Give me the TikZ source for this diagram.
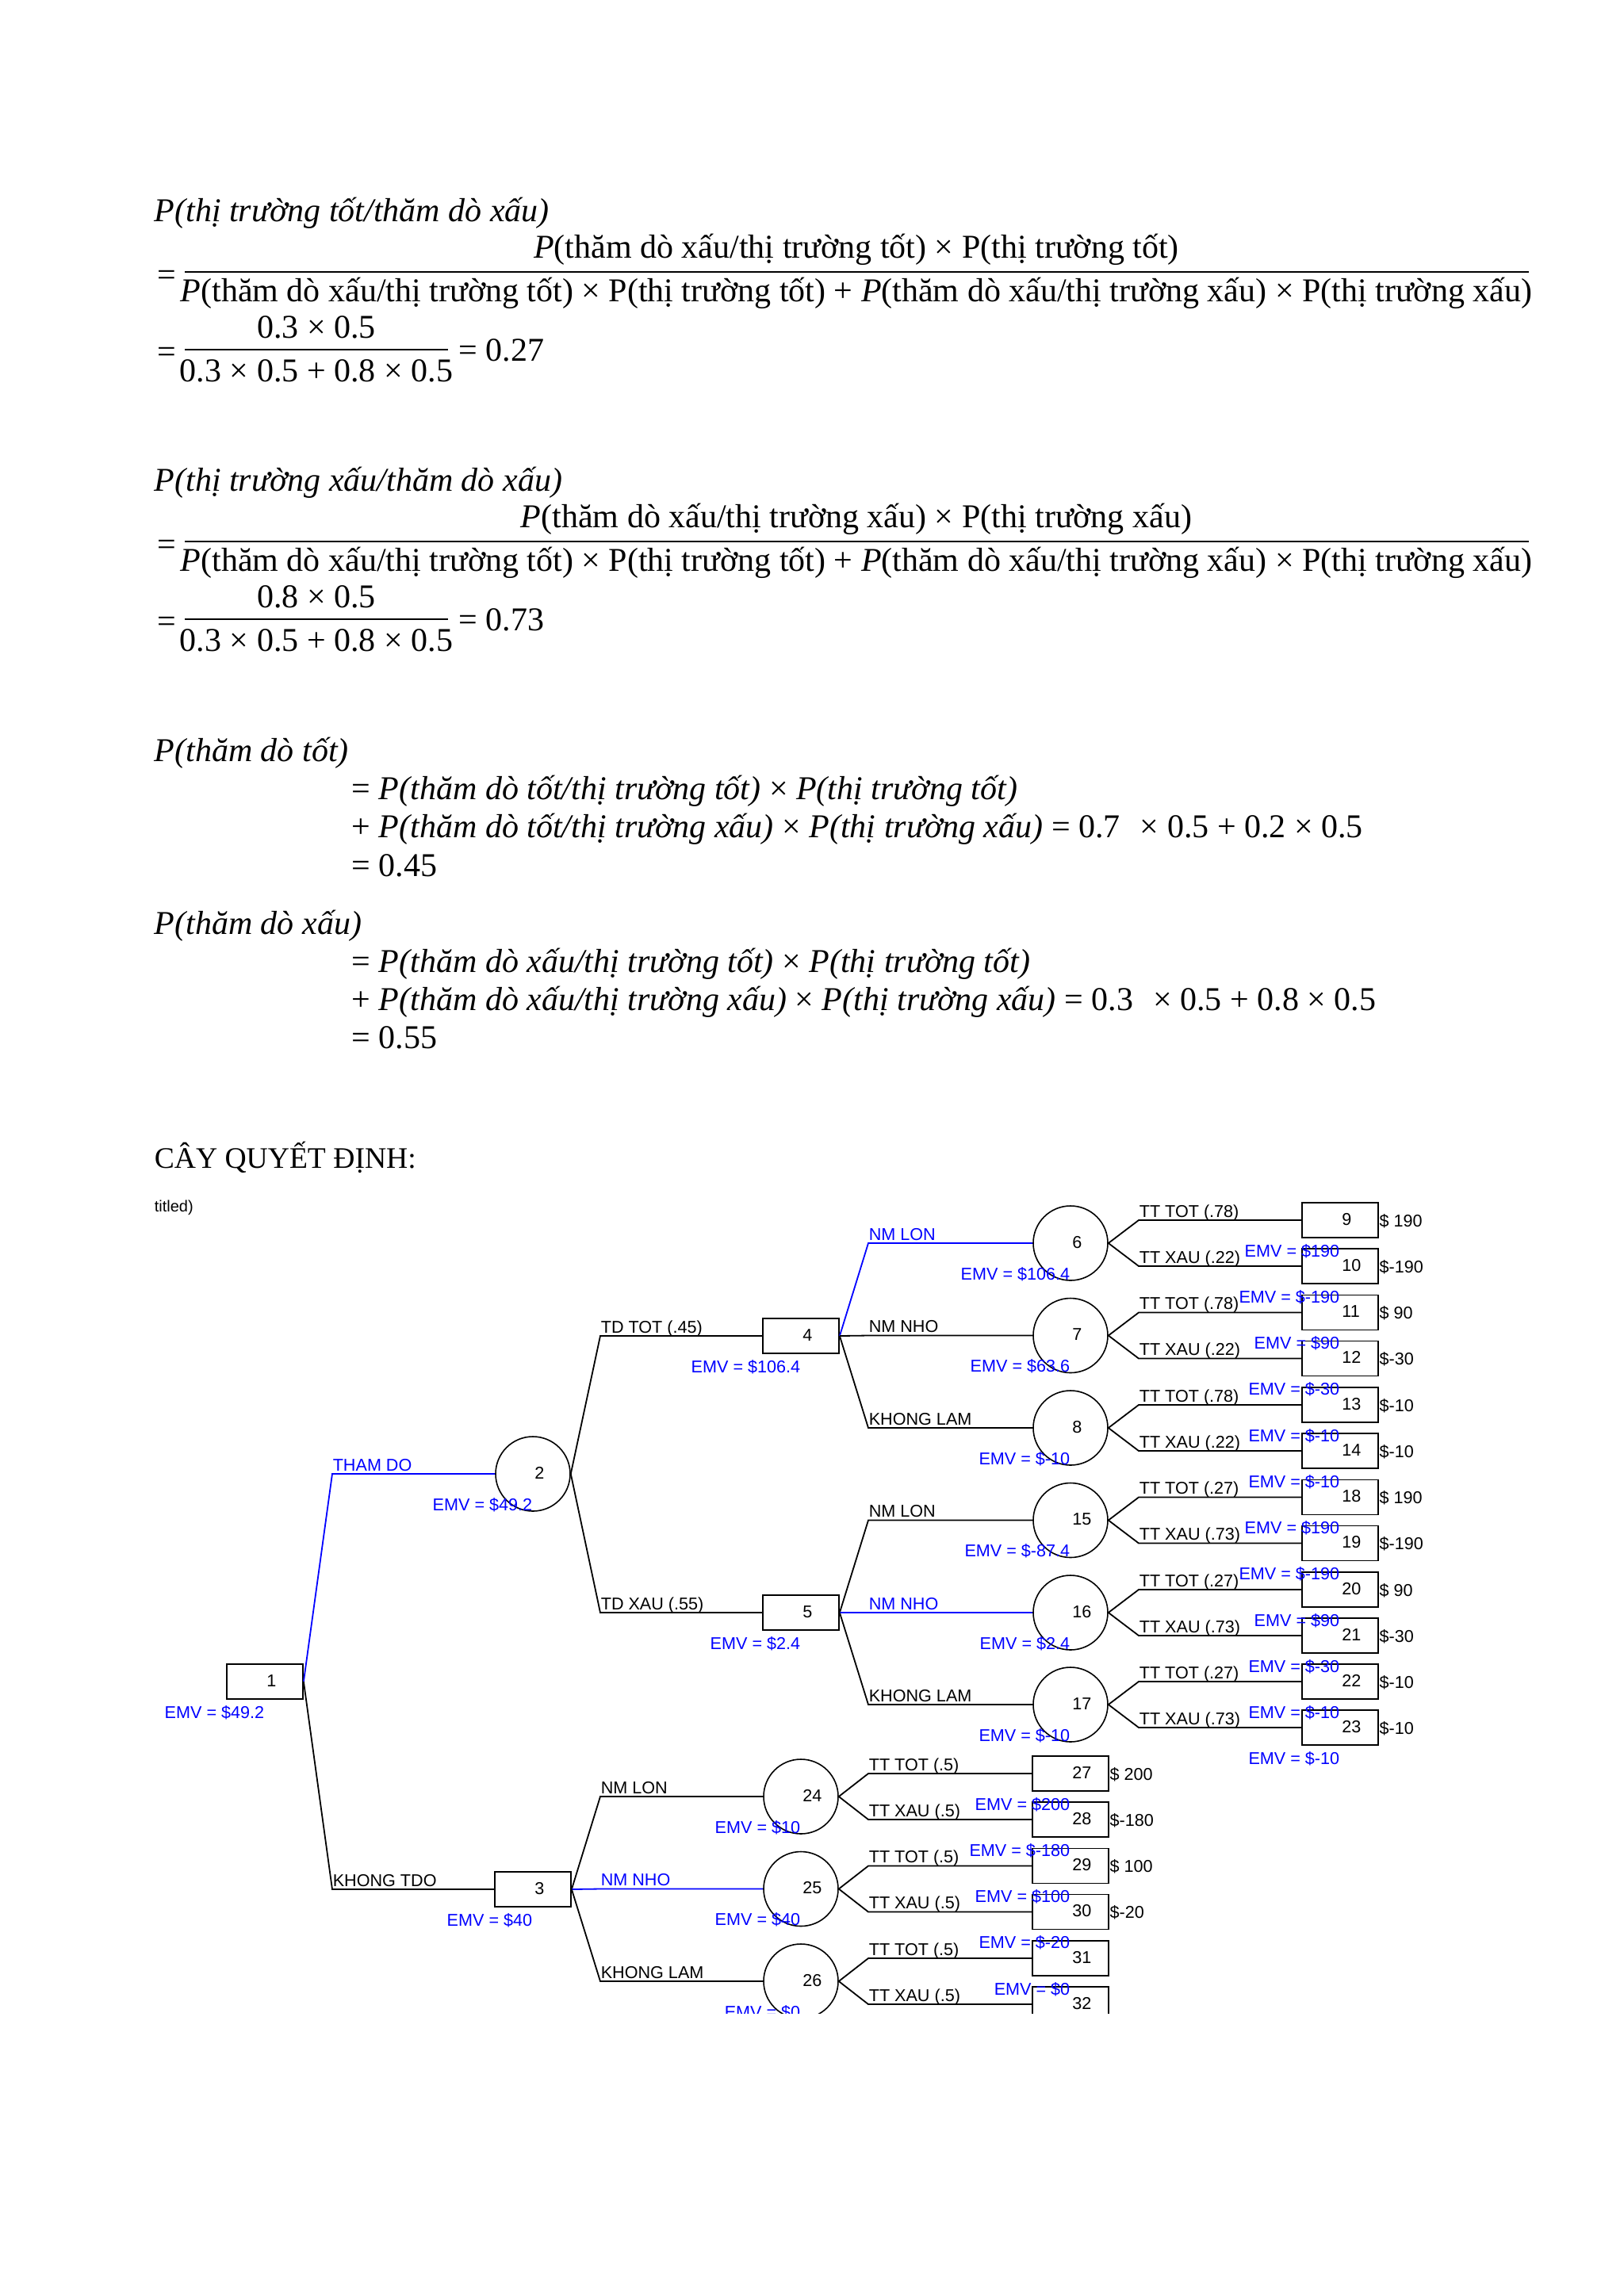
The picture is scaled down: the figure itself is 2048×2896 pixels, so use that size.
\documentclass[tikz,border=0pt]{standalone}
\usepackage{fontspec}
\setmainfont{Liberation Serif}
\newfontfamily\treefont{Liberation Sans}
\definecolor{tblue}{RGB}{0,0,255}
\newcommand{\EqF}{\fontsize{10.5pt}{12pt}\selectfont}
\newcommand{\TrF}{\treefont\fontsize{5.4pt}{6pt}\selectfont}
\newcommand{\mkBox}[4]{\node[dbox] (#1) at (#2,#3) {}; \node[nnum] (#1n) at ([xshift=0.4pt]#1.center) {#4};}
\newcommand{\mkCirc}[4]{\node[cnode] (#1) at (#2,#3) {}; \node[nnum] (#1n) at ([xshift=0.4pt]#1.center) {#4};}
\newcommand{\mkEmv}[2]{\node[emv] (#1e) at ([yshift=-11.5pt]#1.center) {EMV = \$#2};}
\newcommand{\mkPay}[2]{\node[pay] (#1p) at ([yshift=-2pt]#1.east) {\$#2};}
\newcommand{\mkBranch}[5]{%
  \draw[branch,#1] (#2.east) -- (#4,0 |- #3) coordinate (#3k) -- (#3.west);
  \node[blab,text=#1] (#3l) at ([yshift=1pt]#3k) {#5};}
\begin{document}
\begin{tikzpicture}[x=0.25pt,y=-0.25pt,
  eq/.style={font=\EqF, inner sep=0pt, anchor=base west},
  eqc/.style={font=\EqF, inner sep=0pt, anchor=base},
  bar/.style={line width=0.55pt},
  branch/.style={line width=0.45pt},
  dbox/.style={draw, line width=0.45pt, minimum width=24pt, minimum height=11pt, inner sep=0pt},
  cnode/.style={draw, circle, line width=0.4pt, minimum size=23.5pt, inner sep=0pt},
  nnum/.style={font=\TrF, inner sep=0pt, anchor=base west, yshift=-1.5pt},
  blab/.style={font=\TrF, inner sep=0pt, anchor=base west},
  emv/.style={font=\TrF, text=tblue, inner sep=0pt, anchor=base east},
  pay/.style={font=\TrF, inner sep=0pt, anchor=base west}]
\fill[white] (0,0) rectangle (2048,2896);
\useasboundingbox (0,0) rectangle (2048,2896);

% ---------- block 1
\node[eq] (b1t) at (194,279) {\textit{P(thị trường tốt/thăm dò xấu)}};
\node[eqc] (b1n) at (1080,325) {\textit{P}(thăm dò xấu/thị trường tốt) × P(thị trường tốt)};
\node[eq] (b1e) at (198,360) {=};
\draw[bar] (233,343) -- (1928,343);
\node[eqc] (b1d) at (1080,380) {\textit{P}(thăm dò xấu/thị trường tốt) × P(thị trường tốt) + \textit{P}(thăm dò xấu/thị trường xấu) × P(thị trường xấu)};
\node[eqc] (b1fn) at (399,426) {0.3 × 0.5};
\node[eq] (b1e2) at (198,457) {=};
\draw[bar] (233,441) -- (565,441);
\node[eqc] (b1fd) at (399,481) {0.3 × 0.5 + 0.8 × 0.5};
\node[eq] (b1r) at (578,455) {= 0.27};

% ---------- block 2
\node[eq] (b2t) at (194,619) {\textit{P(thị trường xấu/thăm dò xấu)}};
\node[eqc] (b2n) at (1080,665) {\textit{P}(thăm dò xấu/thị trường xấu) × P(thị trường xấu)};
\node[eq] (b2e) at (198,700) {=};
\draw[bar] (233,683) -- (1928,683);
\node[eqc] (b2d) at (1080,720) {\textit{P}(thăm dò xấu/thị trường tốt) × P(thị trường tốt) + \textit{P}(thăm dò xấu/thị trường xấu) × P(thị trường xấu)};
\node[eqc] (b2fn) at (399,766) {0.8 × 0.5};
\node[eq] (b2e2) at (198,797) {=};
\draw[bar] (233,781) -- (565,781);
\node[eqc] (b2fd) at (399,821) {0.3 × 0.5 + 0.8 × 0.5};
\node[eq] (b2r) at (578,795) {= 0.73};

% ---------- block 3
\node[eq] (b3t) at (194,960) {\textit{P(thăm dò tốt)}};
\node[eq] (b3a) at (443,1008) {= \textit{P(thăm dò tốt/thị trường tốt)} × \textit{P(thị trường tốt)}};
\node[eq] (b3b) at (443,1056) {+ \textit{P(thăm dò tốt/thị trường xấu)} × \textit{P(thị trường xấu)} = 0.7\hspace{0.6em}× 0.5 + 0.2 × 0.5};
\node[eq] (b3c) at (443,1105) {= 0.45};

% ---------- block 4
\node[eq] (b4t) at (194,1178) {\textit{P(thăm dò xấu)}};
\node[eq] (b4a) at (443,1226) {= \textit{P(thăm dò xấu/thị trường tốt)} × \textit{P(thị trường tốt)}};
\node[eq] (b4b) at (443,1274) {+ \textit{P(thăm dò xấu/thị trường xấu)} × \textit{P(thị trường xấu)} = 0.3\hspace{0.6em}× 0.5 + 0.8 × 0.5};
\node[eq] (b4c) at (443,1322) {= 0.55};

% ---------- title
\node[anchor=base west, inner sep=0pt, font=\fontsize{9.4pt}{10pt}\selectfont] (title) at (194,1473) {CÂY QUYẾT ĐỊNH:};
\node[anchor=base west, inner sep=0pt, font=\treefont\fontsize{5pt}{6pt}\selectfont] (untitled) at (194,1528) {titled)};

% ---------- tree
\begin{scope}
\clip (0,1490) rectangle (2048,2539);
\mkBox{n1}{334}{2121}{1}
\mkCirc{n2}{672}{1859}{2}
\mkBox{n3}{672}{2383}{3}
\mkBox{n4}{1010}{1685}{4}
\mkBox{n5}{1010}{2034}{5}
\mkCirc{n6}{1350}{1568}{6}
\mkCirc{n7}{1350}{1684.5}{7}
\mkCirc{n8}{1350}{1801}{8}
\mkCirc{n15}{1350}{1917.5}{15}
\mkCirc{n16}{1350}{2034}{16}
\mkCirc{n17}{1350}{2150}{17}
\mkCirc{n24}{1010}{2266}{24}
\mkCirc{n25}{1010}{2382.5}{25}
\mkCirc{n26}{1010}{2499}{26}
\mkBox{t9}{1690}{1539}{9}
\mkBox{t10}{1690}{1597}{10}
\mkBox{t11}{1690}{1655.5}{11}
\mkBox{t12}{1690}{1713.5}{12}
\mkBox{t13}{1690}{1772}{13}
\mkBox{t14}{1690}{1830}{14}
\mkBox{t18}{1690}{1888.5}{18}
\mkBox{t19}{1690}{1946.5}{19}
\mkBox{t20}{1690}{2005}{20}
\mkBox{t21}{1690}{2063}{21}
\mkBox{t22}{1690}{2121}{22}
\mkBox{t23}{1690}{2179}{23}
\mkBox{t27}{1350}{2237}{27}
\mkBox{t28}{1350}{2295}{28}
\mkBox{t29}{1350}{2353.5}{29}
\mkBox{t30}{1350}{2411.5}{30}
\mkBox{t31}{1350}{2470}{31}
\mkBox{t32}{1350}{2528}{32}

\mkBranch{tblue}{n1}{n2}{419}{THAM DO}
\mkBranch{black}{n1}{n3}{419}{KHONG TDO}
\mkBranch{black}{n2}{n4}{757}{TD TOT (.45)}
\mkBranch{black}{n2}{n5}{757}{TD XAU (.55)}
\mkBranch{tblue}{n4}{n6}{1095}{NM LON}
\mkBranch{black}{n4}{n7}{1095}{NM NHO}
\mkBranch{black}{n4}{n8}{1095}{KHONG LAM}
\mkBranch{black}{n5}{n15}{1095}{NM LON}
\mkBranch{tblue}{n5}{n16}{1095}{NM NHO}
\mkBranch{black}{n5}{n17}{1095}{KHONG LAM}
\mkBranch{black}{n3}{n24}{757}{NM LON}
\mkBranch{tblue}{n3}{n25}{757}{NM NHO}
\mkBranch{black}{n3}{n26}{757}{KHONG LAM}
\mkBranch{black}{n6}{t9}{1436}{TT TOT (.78)}
\mkBranch{black}{n6}{t10}{1436}{TT XAU (.22)}
\mkBranch{black}{n7}{t11}{1436}{TT TOT (.78)}
\mkBranch{black}{n7}{t12}{1436}{TT XAU (.22)}
\mkBranch{black}{n8}{t13}{1436}{TT TOT (.78)}
\mkBranch{black}{n8}{t14}{1436}{TT XAU (.22)}
\mkBranch{black}{n15}{t18}{1436}{TT TOT (.27)}
\mkBranch{black}{n15}{t19}{1436}{TT XAU (.73)}
\mkBranch{black}{n16}{t20}{1436}{TT TOT (.27)}
\mkBranch{black}{n16}{t21}{1436}{TT XAU (.73)}
\mkBranch{black}{n17}{t22}{1436}{TT TOT (.27)}
\mkBranch{black}{n17}{t23}{1436}{TT XAU (.73)}
\mkBranch{black}{n24}{t27}{1095}{TT TOT (.5)}
\mkBranch{black}{n24}{t28}{1095}{TT XAU (.5)}
\mkBranch{black}{n25}{t29}{1095}{TT TOT (.5)}
\mkBranch{black}{n25}{t30}{1095}{TT XAU (.5)}
\mkBranch{black}{n26}{t31}{1095}{TT TOT (.5)}
\mkBranch{black}{n26}{t32}{1095}{TT XAU (.5)}

\mkEmv{n1}{49.2}
\mkEmv{n2}{49.2}
\mkEmv{n3}{40}
\mkEmv{n4}{106.4}
\mkEmv{n5}{2.4}
\mkEmv{n6}{106.4}
\mkEmv{n7}{63.6}
\mkEmv{n8}{-10}
\mkEmv{n15}{-87.4}
\mkEmv{n16}{2.4}
\mkEmv{n17}{-10}
\mkEmv{n24}{10}
\mkEmv{n25}{40}
\mkEmv{n26}{0}
\mkEmv{t9}{190}
\mkEmv{t10}{-190}
\mkEmv{t11}{90}
\mkEmv{t12}{-30}
\mkEmv{t13}{-10}
\mkEmv{t14}{-10}
\mkEmv{t18}{190}
\mkEmv{t19}{-190}
\mkEmv{t20}{90}
\mkEmv{t21}{-30}
\mkEmv{t22}{-10}
\mkEmv{t23}{-10}
\mkEmv{t27}{200}
\mkEmv{t28}{-180}
\mkEmv{t29}{100}
\mkEmv{t30}{-20}
\mkEmv{t31}{0}

\mkPay{t9}{ 190}
\mkPay{t10}{-190}
\mkPay{t11}{ 90}
\mkPay{t12}{-30}
\mkPay{t13}{-10}
\mkPay{t14}{-10}
\mkPay{t18}{ 190}
\mkPay{t19}{-190}
\mkPay{t20}{ 90}
\mkPay{t21}{-30}
\mkPay{t22}{-10}
\mkPay{t23}{-10}
\mkPay{t27}{ 200}
\mkPay{t28}{-180}
\mkPay{t29}{ 100}
\mkPay{t30}{-20}
\end{scope}
\end{tikzpicture}
\end{document}
